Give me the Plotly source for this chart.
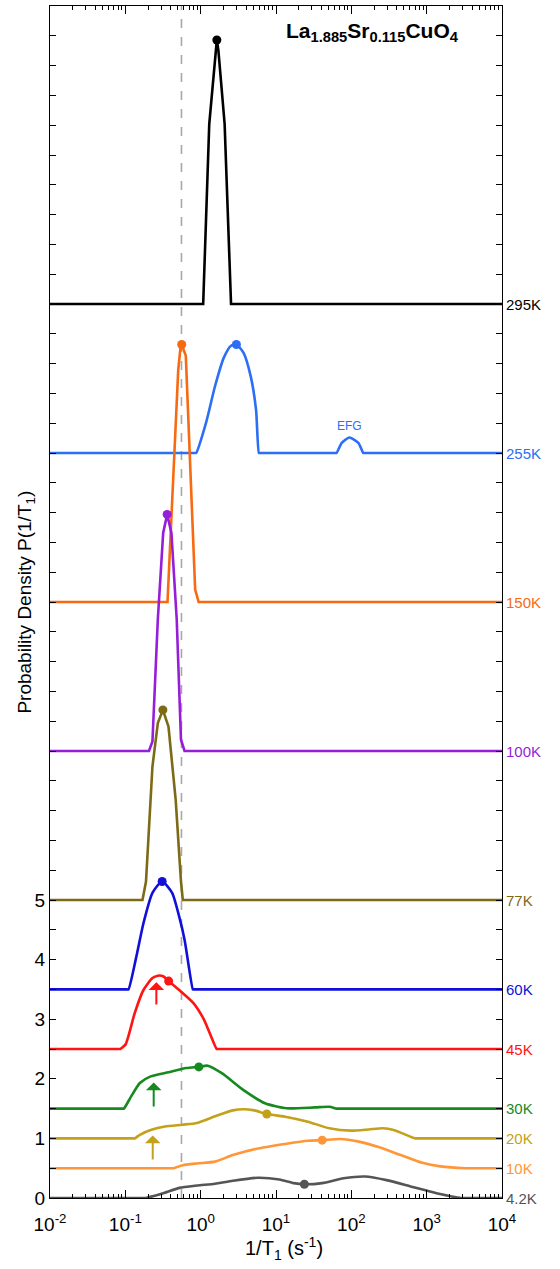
import numpy as np
import plotly.graph_objects as go

# ---------------- data ----------------
temps = ["295K", "255K", "150K", "100K", "77K", "60K", "45K", "30K", "20K", "10K", "4.2K"]
offsets = [15.0, 12.5, 10.0, 7.5, 5.0, 3.5, 2.5, 1.5, 1.0, 0.5, 0.0]
colors = ["#000000", "#2a6ff5", "#f76a12", "#961ed8", "#7d6a16", "#1010d8",
          "#ff1414", "#168a1e", "#c4a11a", "#ff9638", "#555555"]

rate_295 = [0.01, 1.08, 1.30, 1.45, 1.56, 1.64, 1.72, 1.87, 2.08, 2.53, 1e4]
p_295 = [0, 0, 3.02, 3.68, 4.25, 4.43, 4.25, 3.68, 3.02, 0, 0]

rate_255 = [0.01, 0.84, 0.87, 1.18, 1.55, 2.03, 2.53, 2.98, 3.71, 4.61, 5.43, 5.93, 6.1,
            61.0, 63.5, 74.6, 94.0, 124.0, 144.0, 148.0, 1e4]
p_255 = [0, 0, 0, 0.51, 1.12, 1.60, 1.80, 1.82, 1.68, 1.29, 0.73, 0, 0,
         0, 0, 0.17, 0.26, 0.17, 0, 0, 0]

rate_150 = [0.01, 0.363, 0.504, 0.537, 0.56, 0.635, 0.845, 0.94, 1e4]
p_150 = [0, 0, 3.90, 4.24, 4.32, 4.13, 0.21, 0, 0]

rate_100 = [0.01, 0.206, 0.229, 0.270, 0.318, 0.359, 0.409, 0.481, 0.548, 0.611, 1e4]
p_100 = [0, 0, 0.16, 2.21, 3.66, 3.97, 3.66, 2.21, 0.19, 0, 0]

rate_77 = [0.01, 0.169, 0.188, 0.229, 0.270, 0.315, 0.374, 0.466, 0.548, 0.579, 1e4]
p_77 = [0, 0, 0.31, 2.24, 2.97, 3.19, 2.91, 1.68, 0.31, 0, 0]

rate_60 = [0.01, 0.105, 0.110, 0.140, 0.174, 0.229, 0.308, 0.418, 0.519, 0.612, 0.787, 0.80, 1e4]
p_60 = [0, 0, 0, 0.55, 1.11, 1.62, 1.81, 1.62, 1.22, 0.83, 0, 0, 0]

rate_45 = [0.01, 0.083, 0.0857, 0.101, 0.133, 0.174, 0.229, 0.270, 0.318, 0.376, 0.519, 0.802,
           1.11, 1.63, 1.68, 1e4]
p_45 = [0, 0, 0, 0.08, 0.60, 0.99, 1.19, 1.23, 1.22, 1.14, 0.99, 0.77, 0.49, 0, 0, 0]

rate_30 = [0.01, 0.093, 0.0957, 0.119, 0.156, 0.217, 0.374, 0.645, 0.946, 1.24, 1.93, 3.71,
           7.14, 13.8, 33.0, 51.1, 63.5, 66.0, 1e4]
p_30 = [0, 0, 0, 0.20, 0.43, 0.54, 0.61, 0.68, 0.70, 0.72, 0.59, 0.31,
        0.09, 0.005, 0.02, 0.03, 0, 0, 0]

rate_20 = [0.01, 0.128, 0.133, 0.156, 0.217, 0.336, 0.579, 0.897, 1.55, 2.67, 3.71, 5.15,
           7.55, 13.8, 26.5, 51.1, 98.4, 170, 263, 365, 703, 730, 1e4]
p_20 = [0, 0, 0, 0.06, 0.14, 0.20, 0.23, 0.26, 0.37, 0.47, 0.49, 0.47,
        0.41, 0.36, 0.28, 0.17, 0.13, 0.15, 0.17, 0.14, 0, 0, 0]

rate_10 = [0.01, 0.43, 0.441, 0.579, 0.897, 1.55, 2.67, 5.74, 13.8, 26.5, 41.0, 70.9, 122,
           236, 454, 875, 1510, 3240, 3400, 1e4]
p_10 = [0, 0, 0, 0.05, 0.08, 0.11, 0.22, 0.33, 0.41, 0.46, 0.47, 0.49, 0.45,
        0.35, 0.22, 0.09, 0.03, 0, 0, 0]

rate_4 = [0.01, 0.18, 0.185, 0.302, 0.520, 0.897, 1.55, 2.67, 5.74, 11.1, 17.1, 23.8, 41.0,
          79.1, 152, 293, 630, 1350, 2900, 3000, 1e4]
p_4 = [0, 0, 0, 0.07, 0.17, 0.21, 0.24, 0.29, 0.34, 0.31, 0.25, 0.23, 0.25,
       0.33, 0.36, 0.30, 0.19, 0.08, 0, 0, 0]

peak_rate = [1.64, 2.98, 0.56, 0.359, 0.315, 0.308, 0.376, 0.946, 7.55, 41.0, 23.8]
peak_p = [4.43, 1.82, 4.32, 3.97, 3.19, 1.81, 1.14, 0.70, 0.41, 0.47, 0.23]

smooth = [False, True, False, False, False, True, True, True, True, True, True]

dashed_rate = 0.556

# arrows: rate, tail y, tip y (absolute)
arrow_rate = [0.258, 0.238, 0.231]
arrow_tail = [3.22, 1.51, 0.62]
arrow_tip = [3.62, 1.94, 1.05]
arrow_col = ["#ff1414", "#168a1e", "#c4a11a"]

x_tickvals = [1e-2, 1e-1, 1e0, 1e1, 1e2, 1e3, 1e4]
x_ticktext = ["10<sup>-2</sup>", "10<sup>-1</sup>", "10<sup>0</sup>", "10<sup>1</sup>",
              "10<sup>2</sup>", "10<sup>3</sup>", "10<sup>4</sup>"]

curves_rate = [rate_295, rate_255, rate_150, rate_100, rate_77, rate_60, rate_45,
               rate_30, rate_20, rate_10, rate_4]
curves_p = [p_295, p_255, p_150, p_100, p_77, p_60, p_45, p_30, p_20, p_10, p_4]

FONT = "Arial, 'Liberation Sans', Helvetica, sans-serif"

fig = go.Figure()

# dashed reference line
fig.add_trace(go.Scatter(x=[dashed_rate, dashed_rate], y=[0, 20], mode="lines",
                         line=dict(color="#a8a8a8", width=1.6, dash="dash"),
                         showlegend=False, hoverinfo="skip"))

for i in range(len(temps)):
    yy = [offsets[i] + v for v in curves_p[i]]
    line = dict(color=colors[i], width=2.6)
    if smooth[i]:
        line["shape"] = "spline"
        line["smoothing"] = 0.6
    fig.add_trace(go.Scatter(x=curves_rate[i], y=yy, mode="lines", line=line,
                             showlegend=False, name=temps[i]))
    fig.add_trace(go.Scatter(x=[peak_rate[i]], y=[offsets[i] + peak_p[i]], mode="markers",
                             marker=dict(color=colors[i], size=9),
                             showlegend=False, cliponaxis=False))

annotations = []
for i in range(len(temps)):
    annotations.append(dict(x=1.0, xref="paper", y=offsets[i], yref="y", text=temps[i],
                            showarrow=False, xanchor="left", yanchor="middle", xshift=2,
                            font=dict(family=FONT, size=15, color=colors[i])))

for r, t0, t1, c in zip(arrow_rate, arrow_tail, arrow_tip, arrow_col):
    annotations.append(dict(x=np.log10(r), y=t1, xref="x", yref="y",
                            ax=np.log10(r), ay=t0, axref="x", ayref="y",
                            showarrow=True, arrowhead=1, arrowsize=1.3, arrowwidth=2,
                            arrowcolor=c, text=""))

annotations.append(dict(x=np.log10(94.0), y=12.95, xref="x", yref="y", text="EFG",
                        showarrow=False, font=dict(family=FONT, size=12, color=colors[1])))

annotations.append(dict(x=0.518, y=0.978, xref="paper", yref="paper",
                        text="<b>La<sub>1.885</sub>Sr<sub>0.115</sub>CuO<sub>4</sub></b>",
                        showarrow=False, xanchor="left", yanchor="middle",
                        font=dict(family=FONT, size=21, color="#000000")))

annotations.append(dict(x=-0.054, y=0.5, xref="paper", yref="paper",
                        text="Probability Density P(1/T<sub>1</sub>)", textangle=-90,
                        showarrow=False, xanchor="center", yanchor="middle",
                        font=dict(family=FONT, size=19, color="#000000")))

annotations.append(dict(x=0.518, y=-0.0285, xref="paper", yref="paper",
                        text="1/T<sub>1</sub> (s<sup>-1</sup>)",
                        showarrow=False, xanchor="center", yanchor="top",
                        font=dict(family=FONT, size=20, color="#000000")))

minor_vals = []
for k in range(-2, 4):
    for m in range(2, 10):
        minor_vals.append(m * 10.0 ** k)

y_tickvals = [i * 0.5 for i in range(41)]
y_ticktext = [str(int(v)) if (v == int(v) and v <= 5) else "" for v in y_tickvals]

fig.update_layout(
    width=560, height=1269,
    margin=dict(l=50, r=58, t=6, b=71),
    paper_bgcolor="white", plot_bgcolor="white",
    font=dict(family=FONT, size=18, color="#000000"),
    annotations=annotations,
    showlegend=False,
)
fig.update_xaxes(type="log", range=[-2, 4], tickmode="array", tickvals=x_tickvals,
                 ticktext=x_ticktext, ticks="inside", ticklen=8, tickwidth=1,
                 tickcolor="#000", showline=True, linecolor="#000", linewidth=1,
                 mirror="ticks", showgrid=False, zeroline=False, ticklabelstandoff=9,
                 tickfont=dict(family=FONT, size=19),
                 minor=dict(tickmode="array", tickvals=minor_vals, ticks="inside",
                            ticklen=4, tickwidth=1, tickcolor="#000", showgrid=False))
fig.update_yaxes(range=[0, 20], tickmode="array", tickvals=y_tickvals, ticktext=y_ticktext,
                 ticks="inside", ticklen=6, tickwidth=1, tickcolor="#000",
                 showline=True, linecolor="#000", linewidth=1, mirror="ticks",
                 showgrid=False, zeroline=False, tickfont=dict(family=FONT, size=19))

fig.write_html("out.html", config={"displayModeBar": False},
               post_script="document.body.style.margin='0px';")
